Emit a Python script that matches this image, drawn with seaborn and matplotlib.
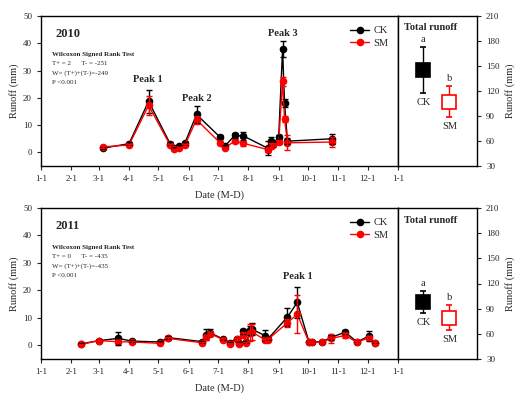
import numpy as np
import pandas as pd
import matplotlib
matplotlib.use('Agg')
import matplotlib.pyplot as plt
import seaborn as sns

# ---- 2010 event runoff (mm), date as M-D
DATES_2010 = ['03-05', '04-01', '04-21', '05-13', '05-17', '05-22', '05-28',
              '06-09', '07-03', '07-08', '07-18', '07-27', '08-21', '08-24',
              '08-26', '09-01', '09-05', '09-07', '09-10', '10-26']
CK_2010 = [1.5, 3.2, 18.7, 3.2, 1.5, 2.3, 3.3, 13.9, 5.6, 2.3, 6.2, 6.0,
           1.5, 4.0, 3.0, 5.6, 37.8, 18.0, 4.1, 5.0]
SM_2010 = [2.0, 2.7, 17.2, 2.7, 1.1, 1.7, 2.6, 12.0, 3.5, 1.7, 4.1, 3.3,
           1.0, 2.3, 2.8, 3.8, 26.0, 12.3, 3.5, 3.8]
CK_ERR_2010 = [0.4, 0.5, 4.3, 0.5, 0.3, 0.5, 0.5, 3.0, 0.6, 0.4, 0.8, 1.5,
               2.5, 1.5, 0.8, 0.8, 3.0, 1.5, 1.0, 1.8]
SM_ERR_2010 = [0.3, 0.4, 3.5, 0.4, 0.3, 0.4, 0.4, 1.5, 0.5, 0.3, 0.5, 0.8,
               1.0, 1.0, 0.6, 0.6, 1.5, 1.0, 2.8, 1.8]

# ---- 2011 event runoff (mm)
DATES_2011 = ['02-11', '03-01', '03-21', '04-04', '05-03', '05-11', '06-15',
              '06-19', '06-23', '07-06', '07-13', '07-20', '07-22', '07-27',
              '07-30', '08-03', '08-05', '08-18', '08-21', '09-10', '09-20',
              '10-02', '10-05', '10-15', '10-25', '11-08', '11-20', '12-02',
              '12-08']
CK_2011 = [0.5, 1.7, 2.5, 1.5, 1.2, 2.8, 1.3, 3.9, 4.5, 2.3, 1.0, 2.4, 0.8,
           5.1, 1.1, 5.4, 5.8, 3.5, 2.3, 10.3, 15.6, 1.2, 1.3, 1.2, 2.9, 4.8,
           1.2, 3.3, 1.0]
SM_2011 = [0.3, 1.7, 1.3, 1.2, 0.7, 2.5, 0.9, 2.9, 4.2, 2.1, 0.5, 2.3, 0.6,
           3.9, 0.9, 4.5, 4.8, 2.0, 2.1, 8.2, 11.3, 1.1, 1.2, 1.1, 2.5, 3.6,
           1.1, 2.7, 0.9]
CK_ERR_2011 = [0.2, 0.3, 2.3, 0.4, 0.3, 0.5, 0.3, 1.9, 1.3, 0.4, 0.3, 0.4,
               0.3, 1.0, 0.3, 1.5, 2.2, 2.0, 0.5, 3.4, 5.8, 0.3, 0.3, 0.3,
               1.0, 0.8, 0.3, 1.8, 0.3]
SM_ERR_2011 = [0.2, 0.3, 0.5, 0.3, 0.3, 0.4, 0.3, 0.8, 0.8, 0.4, 0.3, 0.4,
               0.3, 0.8, 0.3, 3.1, 3.0, 0.8, 0.5, 1.5, 7.0, 0.3, 0.3, 0.3,
               1.5, 0.8, 0.3, 0.8, 0.3]

# ---- total runoff (mm)
TOTAL_2010 = [145, 107]
TOTAL_ERR_2010 = [27.5, 18.5]
TOTAL_2011 = [98, 79]
TOTAL_ERR_2011 = [13.5, 15.0]
TOTAL_LETTERS = ['a', 'b']

TREATMENTS = ['CK', 'SM']
PALETTE = {'CK': 'black', 'SM': 'red'}
MONTH_STARTS = [0, 31, 59, 90, 120, 151, 181, 212, 243, 273, 304, 334, 365]
MONTH_LABELS = ['1-1', '2-1', '3-1', '4-1', '5-1', '6-1', '7-1', '8-1',
                '9-1', '10-1', '11-1', '12-1', '1-1']

STATS_2010 = ['T+ = 2      T- = -251', 'W= (T+)+(T-)=-249', 'P <0.001']
STATS_2011 = ['T+ = 0      T- = -435', 'W= (T+)+(T-)=-435', 'P <0.001']


def to_day(md):
    # days since 1 Jan (non-leap calendar)
    return pd.Timestamp(f'2011-{md}').dayofyear - 1


def make_df(dates, ck, sm, ck_err, sm_err):
    days = [to_day(d) for d in dates]
    df = pd.concat([
        pd.DataFrame({'day': days, 'runoff': ck, 'err': ck_err, 'trt': 'CK'}),
        pd.DataFrame({'day': days, 'runoff': sm, 'err': sm_err, 'trt': 'SM'}),
    ], ignore_index=True)
    return df


def draw_events(ax, df, year, stats, peaks):
    sns.lineplot(data=df, x='day', y='runoff', hue='trt', hue_order=TREATMENTS,
                 palette=PALETTE, marker='o', markersize=5.5,
                 markeredgewidth=0, linewidth=1, errorbar=None, ax=ax)
    for trt in TREATMENTS:
        sub = df[df['trt'] == trt]
        ax.errorbar(sub['day'], sub['runoff'], yerr=sub['err'], fmt='none',
                    ecolor=PALETTE[trt], elinewidth=1, capsize=2,
                    capthick=1)
    ax.set_xlim(0, 365)
    ax.set_ylim(-5, 50)
    ax.set_xticks(MONTH_STARTS)
    ax.set_xticklabels(MONTH_LABELS)
    ax.set_yticks([0, 10, 20, 30, 40, 50])
    ax.set_xlabel('Date (M-D)', fontsize=7.5, labelpad=5)
    ax.set_ylabel('Runoff (mm)', fontsize=7.5, labelpad=3)
    ax.tick_params(labelsize=6.5, length=3, width=0.8, direction='out')
    for s in ax.spines.values():
        s.set_visible(True)
        s.set_linewidth(1)
        s.set_color('black')

    ax.text(0.04, 0.88, year, transform=ax.transAxes, fontsize=9,
            fontweight='bold', va='center')
    ax.text(0.03, 0.74, 'Wilcoxon Signed Rank Test', transform=ax.transAxes,
            fontsize=5, fontweight='bold', va='center')
    for i, line in enumerate(stats):
        ax.text(0.03, 0.68 - i * 0.062, line, transform=ax.transAxes,
                fontsize=5, va='center')
    for label, x, y in peaks:
        ax.text(x, y, label, fontsize=7.5, fontweight='bold', ha='center',
                va='center')

    leg = ax.legend(loc='upper right', bbox_to_anchor=(0.99, 0.975),
                    frameon=False, fontsize=7.5, handlelength=1.8,
                    handletextpad=0.4, labelspacing=0.3, borderaxespad=0.2)
    for h in leg.legend_handles:
        h.set_markersize(5.5)


def draw_total(ax, vals, errs):
    xs = [0.32, 0.65]
    faces = ['black', 'white']
    for x, v, e, trt, face, letter in zip(xs, vals, errs, TREATMENTS,
                                          faces, TOTAL_LETTERS):
        ax.errorbar([x], [v], yerr=[e], fmt='s', ms=9.5, mfc=face,
                    mec=PALETTE[trt], mew=1.2, ecolor=PALETTE[trt],
                    elinewidth=1, capsize=2.5, capthick=1)
        ax.text(x, v + e + 9, letter, ha='center', va='center', fontsize=7.5)
        ax.text(x, v - e - 11, trt, ha='center', va='center', fontsize=7.5)
    ax.set_xlim(0, 1)
    ax.set_ylim(30, 210)
    ax.set_xticks([])
    ax.set_yticks(np.arange(30, 211, 30))
    ax.yaxis.tick_right()
    ax.yaxis.set_label_position('right')
    ax.set_ylabel('Runoff (mm)', fontsize=7.5, labelpad=4)
    ax.tick_params(labelsize=6.5, length=3, width=0.8, direction='out')
    ax.text(0.08, 0.92, 'Total runoff', transform=ax.transAxes, fontsize=7.5,
            fontweight='bold', va='center')
    for s in ax.spines.values():
        s.set_visible(True)
        s.set_linewidth(1)
        s.set_color('black')


sns.set_theme(style='ticks')
plt.rcParams['font.family'] = ['Liberation Serif', 'DejaVu Serif']
plt.rcParams['mathtext.fontset'] = 'stix'

fig = plt.figure(figsize=(5.23, 3.96), dpi=100)
fig.patch.set_facecolor('white')

W, H = 523, 396


def box(x0, y0, x1, y1):
    return [x0 / W, 1 - y1 / H, (x1 - x0) / W, (y1 - y0) / H]


ax_a = fig.add_axes(box(41, 16, 398, 166))
ax_b = fig.add_axes(box(398, 16, 477, 166))
ax_c = fig.add_axes(box(41, 208, 398, 359))
ax_d = fig.add_axes(box(398, 208, 477, 359))

df10 = make_df(DATES_2010, CK_2010, SM_2010, CK_ERR_2010, SM_ERR_2010)
df11 = make_df(DATES_2011, CK_2011, SM_2011, CK_ERR_2011, SM_ERR_2011)

draw_events(ax_a, df10, '2010', STATS_2010,
            [('Peak 1', 109, 26.6), ('Peak 2', 159, 19.6),
             ('Peak 3', 247, 43.7)])
draw_events(ax_c, df11, '2011', STATS_2011, [('Peak 1', 263, 25)])
draw_total(ax_b, TOTAL_2010, TOTAL_ERR_2010)
draw_total(ax_d, TOTAL_2011, TOTAL_ERR_2011)

fig.savefig('out.png', dpi=100, facecolor='white')
